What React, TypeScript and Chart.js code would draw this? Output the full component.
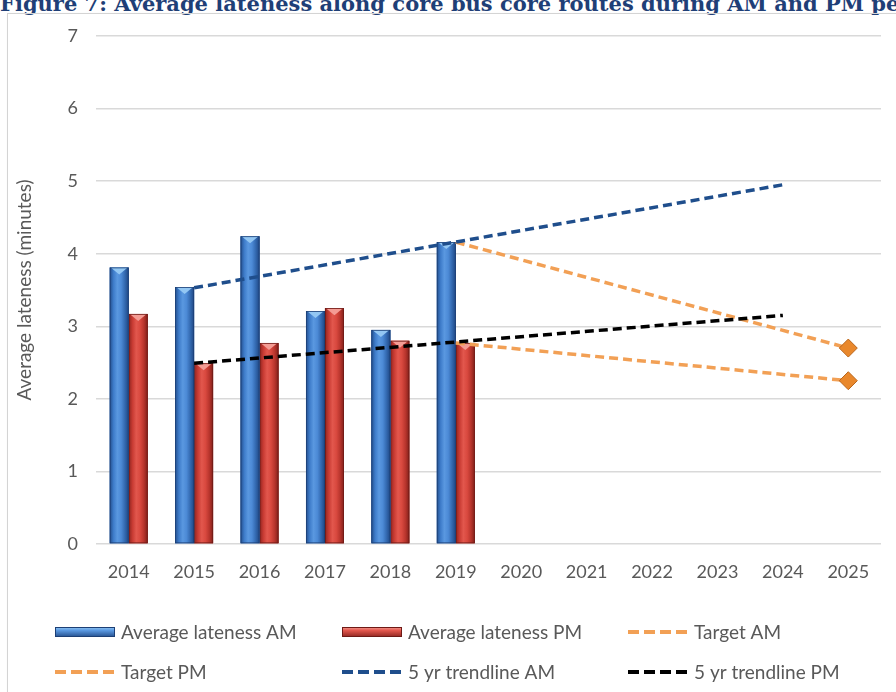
import React, { useEffect, useRef } from "react";
import { Chart, registerables } from "chart.js";

Chart.register(...registerables);

// ---- data ----
const years = ["2014", "2015", "2016", "2017", "2018", "2019", "2020", "2021", "2022", "2023", "2024", "2025"];
const lateAM = [3.81, 3.54, 4.24, 3.21, 2.95, 4.16, null, null, null, null, null, null];
const latePM = [3.17, 2.49, 2.77, 3.25, 2.8, 2.77, null, null, null, null, null, null];
const targetAM = [null, null, null, null, null, 4.16, null, null, null, null, null, 2.7];
const targetPM = [null, null, null, null, null, 2.77, null, null, null, null, null, 2.25];
const trendAM = [null, 3.53, null, null, null, null, null, null, null, null, 4.95, null];
const trendPM = [null, 2.49, null, null, null, null, null, null, null, null, 3.15, null];
const yMin = 0;
const yMax = 7;
const yStep = 1;

const TITLE = "Figure 7: Average lateness along core bus core routes during AM and PM peak periods";
const Y_TITLE = "Average lateness (minutes)";

// ---- styles ----
const FONT = "Lato";
const TEXT = "#595959";
const BLUE = "#3F7DCB";
const RED = "#CC3D36";
const ORANGE = "#F2A055";
const NAVY = "#1F4E8C";
const BLACK = "#000000";

const barLooks: Record<number, { stops: string[]; cap: string; edge: string }> = {
  0: { stops: ["#234E8C", "#3E7CCA", "#5A98E0", "#4C8AD6", "#3369B0", "#1F4682"], cap: "#93C7F3", edge: "#1C3F75" },
  1: { stops: ["#8E2520", "#C83B33", "#E2574D", "#D9493F", "#B8352D", "#80201A"], cap: "#F49C94", edge: "#6E1A16" },
};

const barShade = {
  id: "barShade",
  afterDatasetDraw(chart: any, args: any) {
    const look = barLooks[args.index];
    if (!look) return;
    const values = chart.data.datasets[args.index].data;
    const ctx = chart.ctx as CanvasRenderingContext2D;
    ctx.save();
    args.meta.data.forEach((el: any, j: number) => {
      if (values[j] === null || values[j] === undefined) return;
      const p = el.getProps(["x", "y", "base", "width"], true);
      if (!isFinite(p.y) || !isFinite(p.x)) return;
      const l = p.x - p.width / 2;
      const r = p.x + p.width / 2;
      const t = Math.min(p.y, p.base);
      const b = Math.max(p.y, p.base);
      const g = ctx.createLinearGradient(l, 0, r, 0);
      const n = look.stops.length;
      look.stops.forEach((c, i) => g.addColorStop(i / (n - 1), c));
      ctx.fillStyle = g;
      ctx.fillRect(l, t, r - l, b - t);
      ctx.beginPath();
      ctx.moveTo(l + 1, t);
      ctx.lineTo(r - 1, t);
      ctx.lineTo(p.x, t + 7);
      ctx.closePath();
      ctx.fillStyle = look.cap;
      ctx.fill();
      ctx.strokeStyle = look.edge;
      ctx.lineWidth = 0.8;
      ctx.strokeRect(l + 0.4, t + 0.4, r - l - 0.8, b - t - 0.8);
    });
    ctx.restore();
  },
};

const legendLayout = {
  cols: [55, 342, 628],
  rows: [632, 672],
  swatch: 60,
  gap: 6,
};

const customLegend = {
  id: "customLegend",
  afterDraw(chart: any) {
    const ctx = chart.ctx as CanvasRenderingContext2D;
    ctx.save();
    chart.data.datasets.forEach((ds: any, i: number) => {
      const x = legendLayout.cols[i % 3];
      const y = legendLayout.rows[Math.floor(i / 3)];
      const w = legendLayout.swatch;
      const look = barLooks[i];
      if (look) {
        const g = ctx.createLinearGradient(0, y - 5, 0, y + 5);
        g.addColorStop(0, look.cap);
        g.addColorStop(0.35, look.stops[2]);
        g.addColorStop(1, look.stops[0]);
        ctx.fillStyle = g;
        ctx.fillRect(x, y - 5, w, 10);
        ctx.strokeStyle = look.edge;
        ctx.lineWidth = 1;
        ctx.strokeRect(x + 0.5, y - 4.5, w - 1, 9);
      } else {
        ctx.beginPath();
        ctx.setLineDash([11, 5]);
        ctx.lineWidth = 4;
        ctx.strokeStyle = ds.borderColor;
        ctx.moveTo(x, y);
        ctx.lineTo(x + w, y);
        ctx.stroke();
        ctx.setLineDash([]);
      }
      ctx.fillStyle = TEXT;
      ctx.font = `19px ${FONT}`;
      ctx.textBaseline = "middle";
      ctx.textAlign = "left";
      ctx.fillText(ds.label, x + w + legendLayout.gap, y + 1);
    });
    ctx.restore();
  },
};

export default function App() {
  const ref = useRef<HTMLCanvasElement | null>(null);

  useEffect(() => {
    if (!ref.current) return;
    const diamondRadius = (ctx: any) => (ctx.dataIndex === years.length - 1 ? 9 : 0);
    const chart = new Chart(ref.current, {
      type: "bar",
      data: {
        labels: years,
        datasets: [
          { label: "Average lateness AM", data: lateAM, backgroundColor: BLUE, order: 2 } as any,
          { label: "Average lateness PM", data: latePM, backgroundColor: RED, order: 2 } as any,
          {
            type: "line", label: "Target AM", data: targetAM, borderColor: ORANGE, borderWidth: 3.5,
            borderDash: [9, 5], spanGaps: true, pointStyle: "rectRot", pointRadius: diamondRadius,
            pointBackgroundColor: "#E9882C", pointBorderColor: "#B9661C", pointBorderWidth: 1, order: 1,
          } as any,
          {
            type: "line", label: "Target PM", data: targetPM, borderColor: ORANGE, borderWidth: 3.5,
            borderDash: [9, 5], spanGaps: true, pointStyle: "rectRot", pointRadius: diamondRadius,
            pointBackgroundColor: "#E9882C", pointBorderColor: "#B9661C", pointBorderWidth: 1, order: 1,
          } as any,
          {
            type: "line", label: "5 yr trendline AM", data: trendAM, borderColor: NAVY, borderWidth: 3.5,
            borderDash: [9, 5], spanGaps: true, pointRadius: 0, order: 0,
          } as any,
          {
            type: "line", label: "5 yr trendline PM", data: trendPM, borderColor: BLACK, borderWidth: 3.5,
            borderDash: [9, 5], spanGaps: true, pointRadius: 0, order: 0,
          } as any,
        ],
      },
      options: {
        responsive: false,
        animation: false,
        events: [],
        datasets: { bar: { categoryPercentage: 0.58, barPercentage: 1 } },
        layout: { padding: { left: 8, top: 36, right: 15, bottom: 98 } },
        plugins: { legend: { display: false }, tooltip: { enabled: false }, title: { display: false } },
        scales: {
          x: {
            grid: { display: false, drawTicks: false },
            border: { display: false },
            ticks: { color: TEXT, font: { family: FONT, size: 18 }, padding: 17 },
            afterFit: (s: any) => { s.height = 50; },
          },
          y: {
            min: yMin,
            max: yMax,
            ticks: { stepSize: yStep, color: TEXT, font: { family: FONT, size: 18 }, padding: 18 },
            grid: { color: "#D9D9D9", lineWidth: 1.5, drawTicks: false },
            border: { display: false },
            title: {
              display: true, text: Y_TITLE, color: TEXT, font: { family: FONT, size: 19 },
              padding: { top: 5, bottom: 0 },
            },
            afterFit: (s: any) => { s.width = 88; },
          },
        },
      } as any,
      plugins: [barShade, customLegend],
    });
    return () => chart.destroy();
  }, []);

  return (
    <div style={{ position: "fixed", left: 0, top: 0, width: 896, height: 692, overflow: "hidden", background: "#fff" }}>
      <div
        style={{
          position: "absolute", left: 0, top: -7, whiteSpace: "nowrap",
          fontFamily: '"DejaVu Serif", serif', fontWeight: "bold", fontSize: 21, lineHeight: "21px", color: "#1F3F77",
        }}
      >
        {TITLE}
      </div>
      <div
        style={{
          position: "absolute", left: 7, top: 13, width: 910, height: 720,
          border: "1.5px solid #D4D4D4", boxShadow: "1px 1px 2px rgba(0,0,0,0.12)",
        }}
      />
      <canvas ref={ref} width={896} height={692} style={{ position: "absolute", left: 0, top: 0 }} />
    </div>
  );
}
